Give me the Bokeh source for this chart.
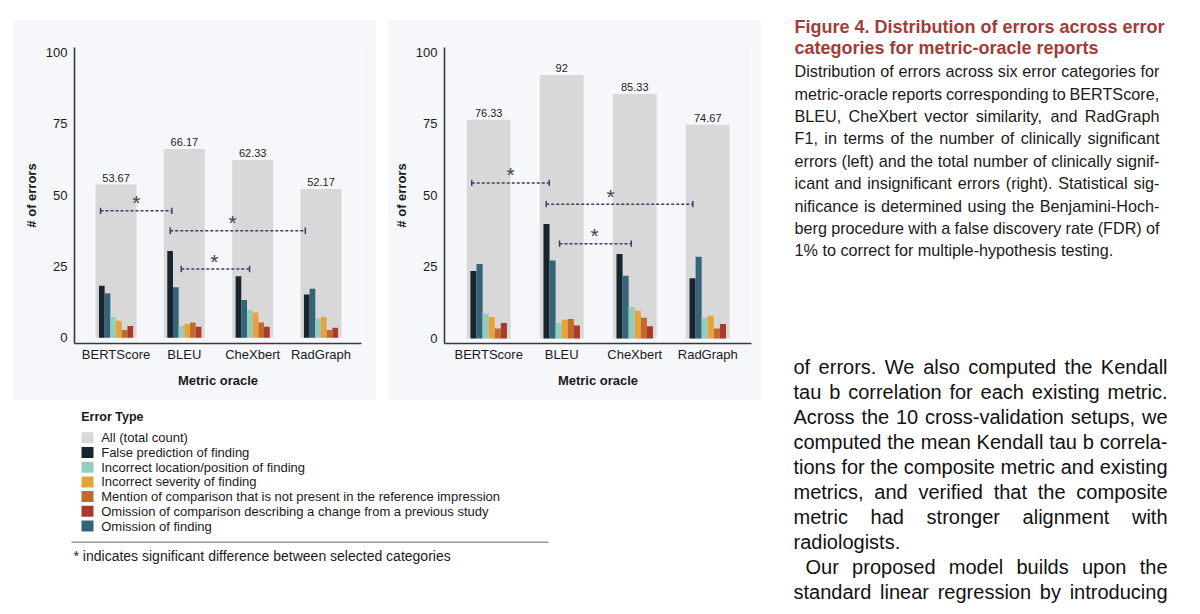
import numpy as np
from bokeh.plotting import figure
from bokeh.models import Range1d, FixedTicker, Spacer
from bokeh.layouts import row, column
from bokeh.core.properties import value
from bokeh.embed import file_html
from bokeh.resources import INLINE

# ---------------- data ----------------
categories = ["BERTScore", "BLEU", "CheXbert", "RadGraph"]

# left panel: clinically significant errors
sig_total = [53.67, 66.17, 62.33, 52.17]
sig_false_pred = [18.2, 30.4, 21.6, 15.2]
sig_omission_find = [15.6, 17.7, 13.2, 17.2]
sig_location = [7.3, 4.1, 9.7, 6.8]
sig_severity = [6.0, 4.8, 8.9, 7.3]
sig_mention = [2.7, 5.4, 5.4, 2.7]
sig_omission_comp = [4.1, 3.9, 3.9, 3.5]
# significance brackets (left panel)
sig_br_x0 = [-0.227, 0.794, 0.955]
sig_br_x1 = [0.817, 2.77, 1.955]
sig_br_y = [44.5, 37.5, 24.1]
sig_star_x = [0.296, 1.706, 1.44]

# right panel: clinically significant and insignificant errors
all_total = [76.33, 92, 85.33, 74.67]
all_false_pred = [23.6, 40.0, 29.5, 21.0]
all_omission_find = [26.0, 27.2, 21.9, 28.5]
all_location = [8.7, 5.4, 11.0, 7.2]
all_severity = [7.5, 6.5, 9.7, 7.9]
all_mention = [3.5, 6.8, 7.2, 3.5]
all_omission_comp = [5.4, 4.5, 4.3, 5.1]
all_br_x0 = [-0.232, 0.788, 0.97]
all_br_x1 = [0.829, 2.796, 1.952]
all_br_y = [54.3, 46.9, 33.1]
all_star_x = [0.299, 1.668, 1.449]

y_ticks = [0, 25, 50, 75, 100]

legend_labels = [
    "All (total count)",
    "False prediction of finding",
    "Incorrect location/position of finding",
    "Incorrect severity of finding",
    "Mention of comparison that is not present in the reference impression",
    "Omission of comparison describing a change from a previous study",
    "Omission of finding",
]

caption_title = [
    "Figure 4.  Distribution of errors across error",
    "categories for metric-oracle reports",
]
caption_body = [
    "Distribution of errors across six error categories for",
    "metric-oracle reports corresponding to BERTScore,",
    "BLEU, CheXbert vector similarity, and RadGraph",
    "F1, in terms of the number of clinically significant",
    "errors (left) and the total number of clinically signif-",
    "icant and insignificant errors (right). Statistical sig-",
    "nificance is determined using the Benjamini-Hoch-",
    "berg procedure with a false discovery rate (FDR) of",
    "1% to correct for multiple-hypothesis testing.",
]
main_body = [
    "of errors. We also computed the Kendall",
    "tau b correlation for each existing metric.",
    "Across the 10 cross-validation setups, we",
    "computed the mean Kendall tau b correla-",
    "tions for the composite metric and existing",
    "metrics, and verified that the composite",
    "metric had stronger alignment with",
    "radiologists.",
    "Our proposed model builds upon the",
    "standard linear regression by introducing",
]
footnote = "* indicates significant difference between selected categories"

# ---------------- styles ----------------
FONT = "Liberation Sans"
PANEL = "#f6f7fb"
COL_ALL = "#d8d8d8"
COL_FALSE = "#18252f"
COL_LOC = "#94ccbd"
COL_SEV = "#e8a23a"
COL_MENTION = "#c2692b"
COL_OMCOMP = "#aa3a2c"
COL_OMFIND = "#356479"
BRACKET = "#3b3d6e"
legend_colors = [COL_ALL, COL_FALSE, COL_LOC, COL_SEV, COL_MENTION, COL_OMCOMP, COL_OMFIND]

BAR_W = 0.6
SUB_W = 0.0833


def make_chart(totals, series, bx0, bx1, by, sx, width, xr, yr, borders):
    left, right, top, bottom = borders
    p = figure(width=width, height=381, x_range=Range1d(*xr), y_range=Range1d(*yr),
               output_backend="svg", toolbar_location=None, title=None,
               min_border_left=left, min_border_right=right,
               min_border_top=top, min_border_bottom=bottom,
               background_fill_color=PANEL, border_fill_color=PANEL,
               outline_line_color=None)
    p.grid.visible = False
    idx = np.arange(len(categories))
    p.vbar(x=idx, top=totals, width=BAR_W, color=COL_ALL, line_color=None)
    n = len(series)
    for k, (vals, col) in enumerate(series):
        off = -SUB_W * n / 2 + SUB_W * (k + 0.5)
        p.vbar(x=idx + off, top=vals, width=SUB_W, color=col, line_color=None)
    p.text(x=idx, y=totals, text=[f"{v:g}" for v in totals], text_align="center",
           text_baseline="middle", y_offset=-7, text_font=value(FONT),
           text_font_size="11px", text_color="#222222")
    # significance brackets
    p.segment(x0=bx0, y0=by, x1=bx1, y1=by, line_color=BRACKET, line_width=1.5,
              line_dash="3 2")
    ends = list(bx0) + list(bx1)
    ys = list(by) + list(by)
    p.segment(x0=ends, y0=[y - 1.1 for y in ys], x1=ends, y1=[y + 1.1 for y in ys],
              line_color=BRACKET, line_width=1.5)
    p.text(x=sx, y=by, text=["*"] * len(sx), text_align="center",
           text_baseline="alphabetic", y_offset=-8, text_font=value(FONT),
           text_font_size="21px", text_color="#444444")
    # axes
    p.xaxis.ticker = FixedTicker(ticks=list(range(len(categories))))
    p.xaxis.major_label_overrides = {i: c for i, c in enumerate(categories)}
    p.yaxis.ticker = FixedTicker(ticks=y_ticks)
    p.xaxis.axis_label = "Metric oracle"
    p.yaxis.axis_label = "# of errors"
    for ax in (p.xaxis[0], p.yaxis[0]):
        ax.axis_line_color = "#383838"
        ax.axis_line_width = 1.6
        ax.major_tick_line_color = None
        ax.minor_tick_line_color = None
        ax.major_tick_out = 0
        ax.major_tick_in = 0
        ax.minor_tick_out = 0
        ax.minor_tick_in = 0
        ax.major_label_text_font = FONT
        ax.major_label_text_font_size = "13px"
        ax.major_label_text_color = "#1a1a1a"
        ax.axis_label_text_font = FONT
        ax.axis_label_text_font_size = "13px"
        ax.axis_label_text_font_style = "bold"
        ax.axis_label_text_color = "#1a1a1a"
    p.yaxis.major_label_standoff = 7
    p.yaxis.axis_label_standoff = 4
    p.xaxis.major_label_standoff = 3
    p.xaxis.axis_label_standoff = 8
    return p


c1 = make_chart(
    sig_total,
    [(sig_false_pred, COL_FALSE), (sig_omission_find, COL_OMFIND), (sig_location, COL_LOC),
     (sig_severity, COL_SEV), (sig_mention, COL_MENTION), (sig_omission_comp, COL_OMCOMP)],
    sig_br_x0, sig_br_x1, sig_br_y, sig_star_x,
    363, (-0.608, 3.593), (-2.0, 101.7), (61, 15, 28, 57))

c2 = make_chart(
    all_total,
    [(all_false_pred, COL_FALSE), (all_omission_find, COL_OMFIND), (all_location, COL_LOC),
     (all_severity, COL_SEV), (all_mention, COL_MENTION), (all_omission_comp, COL_OMCOMP)],
    all_br_x0, all_br_x1, all_br_y, all_star_x,
    374, (-0.605, 3.599), (-1.75, 101.6), (57, 10, 28, 57))


def blank_fig(width, height, xr, yr):
    p = figure(width=width, height=height, x_range=Range1d(*xr), y_range=Range1d(*yr),
               output_backend="svg", toolbar_location=None, title=None,
               x_axis_type=None, y_axis_type=None, min_border=0,
               outline_line_color=None, background_fill_color="white",
               border_fill_color="white")
    return p


# ---------------- legend block ----------------
lg = blank_fig(754, 206, (8, 762), (606, 400))
lg.text(x=[81.7], y=[416.7], text=["Error Type"], text_font=value(FONT),
        text_font_size="12.5px", text_font_style="bold", text_baseline="middle",
        text_color="#1a1a1a")
ly = [437.3 + 14.7 * i for i in range(len(legend_labels))]
lg.rect(x=[88] * len(ly), y=ly, width=12, height=11, fill_color=legend_colors,
        line_color=None)
lg.text(x=[101.7] * len(ly), y=ly, text=legend_labels, text_font=value(FONT),
        text_font_size="13px", text_baseline="middle", text_color="#1a1a1a")
lg.segment(x0=[72], y0=[541.7], x1=[549], y1=[541.7], line_color="#9a9a9a", line_width=1.5)
lg.text(x=[74], y=[555.5], text=[footnote], text_font=value(FONT), text_font_size="14px",
        text_baseline="middle", text_color="#1a1a1a")

# ---------------- text column ----------------
HW = {' ': 278, '!': 278, '"': 355, '#': 556, '$': 556, '%': 889, '&': 667, "'": 191,
      '(': 333, ')': 333, '*': 389, '+': 584, ',': 278, '-': 333, '.': 278, '/': 278,
      ':': 278, ';': 278, '?': 556}
for ch in "0123456789":
    HW[ch] = 556
for ch, w in zip("ABCDEFGHIJKLMNOPQRSTUVWXYZ",
                 [667, 667, 722, 722, 667, 611, 778, 722, 278, 500, 667, 556, 833, 722, 778,
                  667, 778, 722, 667, 611, 722, 667, 944, 667, 667, 611]):
    HW[ch] = w
for ch, w in zip("abcdefghijklmnopqrstuvwxyz",
                 [556, 556, 500, 556, 556, 278, 556, 556, 222, 222, 500, 222, 833, 556, 556,
                  556, 556, 333, 500, 278, 556, 500, 722, 500, 500, 500]):
    HW[ch] = w


def word_w(s, size):
    return sum(HW.get(c, 556) for c in s) / 1000.0 * size


def set_lines(lines, x_left, x_right, y0, dy, size, no_justify=(), indents=None):
    xs, ys, ts = [], [], []
    indents = indents or {}
    for i, line in enumerate(lines):
        words = line.split(" ")
        left = x_left + indents.get(i, 0)
        ws = [word_w(w, size) for w in words]
        if i not in no_justify and len(words) > 1:
            gap = (x_right - left - sum(ws)) / (len(words) - 1)
        else:
            gap = word_w(" ", size)
        x = left
        for w, wd in zip(words, ws):
            xs.append(x)
            ys.append(y0 + i * dy)
            ts.append(w)
            x += wd + gap
    return xs, ys, ts


tx = blank_fig(430, 598, (762, 1192), (606, 8))
tx.text(x=[795, 795], y=[26, 47.7], text=caption_title, text_font=value(FONT),
        text_font_size="18px", text_font_style="bold", text_baseline="middle",
        text_color="#a23c3a")
xs, ys, ts = set_lines(caption_body, 795, 1160, 70.7, 22.4, 16.2,
                       no_justify=(len(caption_body) - 1,))
tx.text(x=xs, y=ys, text=ts, text_font=value(FONT), text_font_size="16.2px",
        text_baseline="middle", text_color="#1a1a1a")
xs, ys, ts = set_lines(main_body, 794, 1168, 366, 25.1, 20, no_justify=(7,),
                       indents={8: 12})
tx.text(x=xs, y=ys, text=ts, text_font=value(FONT), text_font_size="20px",
        text_baseline="middle", text_color="#111111")

left_block = column(Spacer(height=11),
                    row(Spacer(width=6), c1, Spacer(width=11), c2),
                    lg)
content = row(left_block, tx)
# the page body shows no margin of its own, so offset the whole content
layout = column(Spacer(height=8), row(Spacer(width=7), content))

open("out.html", "w").write(file_html(layout, INLINE))
